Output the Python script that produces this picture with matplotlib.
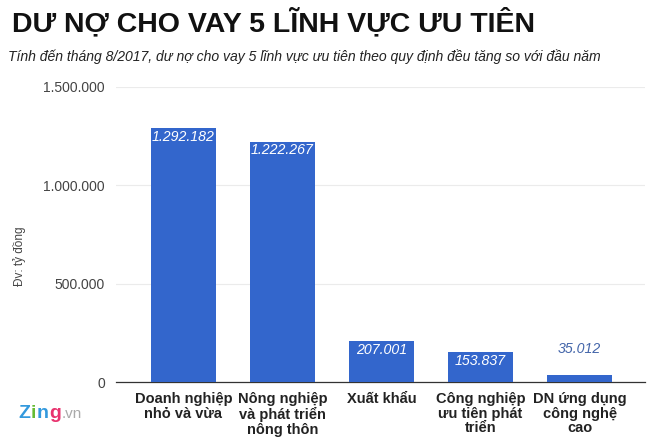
import matplotlib.pyplot as plt
from matplotlib.ticker import FuncFormatter

categories = ["Doanh nghiệp\nnhỏ và vừa", "Nông nghiệp\nvà phát triển\nnông thôn",
              "Xuất khẩu", "Công nghiệp\nưu tiên phát\ntriển", "DN ứng dụng\ncông nghệ\ncao"]
values = [1292182, 1222267, 207001, 153837, 35012]
value_labels = ["1.292.182", "1.222.267", "207.001", "153.837", "35.012"]
yticks = [0, 500000, 1000000, 1500000]

plt.rcParams['font.family'] = ['Liberation Sans', 'DejaVu Sans']

fig = plt.figure(figsize=(6.6, 4.38), dpi=100)
W, H = 660, 438
ax = fig.add_axes([116 / W, 1 - 382 / H, (645 - 116) / W, (382 - 87) / H])

blue = "#3366cc"
x = range(len(values))
ax.bar(x, values, width=0.65, color=blue, zorder=3)
ax.set_xlim(-0.68, 4.66)
ax.set_ylim(0, 1500000)
ax.set_yticks(yticks)
ax.yaxis.set_major_formatter(FuncFormatter(lambda v, p: f"{int(v):,}".replace(",", ".")))
ax.grid(axis="y", color="#ebebeb", linewidth=0.8, zorder=0)
for s in ["top", "right", "left"]:
    ax.spines[s].set_visible(False)
ax.spines["bottom"].set_color("#333333")
ax.spines["bottom"].set_linewidth(0.9)
ax.tick_params(axis="y", length=0, labelsize=10, labelcolor="#444444", pad=8)
ax.tick_params(axis="x", length=0, pad=7)
ax.set_xticks(list(x))
ax.set_xticklabels(categories, fontsize=10.5, fontweight="bold", color="#222222",
                   linespacing=1.08)

fig.text(20 / W, 1 - 256 / H, "Đv: tỷ đồng", fontsize=8.5, color="#444444",
         rotation=90, ha="center", va="center")

for i, (v, lab) in enumerate(zip(values, value_labels)):
    if v > 100000:
        ax.text(i, v - 9000, lab, ha="center", va="top", color="white",
                fontsize=10.2, style="italic", zorder=4)
    else:
        ax.text(i, v + 95000, lab, ha="center", va="bottom", color="#4466aa",
                fontsize=10.2, style="italic", zorder=4)

fig.text(12 / W, 1 - 23 / H, "DƯ NỢ CHO VAY 5 LĨNH VỰC ƯU TIÊN", fontsize=20.5,
         fontweight="bold", color="#111111", va="center", ha="left")
fig.text(8 / W, 1 - 57 / H,
         "Tính đến tháng 8/2017, dư nợ cho vay 5 lĩnh vực ưu tiên theo quy định đều tăng so với đầu năm",
         fontsize=10.1, style="italic", color="#222222", va="center", ha="left")

# Zing logo, letters placed one after another
renderer = fig.canvas.get_renderer()
px = 18
logo_y = 1 - 418 / H
for ch, col, sz, wt in [("Z", "#3399dd", 14, "bold"), ("i", "#66bb33", 14, "bold"),
                        ("n", "#3399dd", 14, "bold"), ("g", "#e8336e", 14, "bold"),
                        (".vn", "#aaaaaa", 11, "normal")]:
    t = fig.text(px / W, logo_y, ch, fontsize=sz, fontweight=wt, color=col,
                 va="baseline", ha="left")
    px = t.get_window_extent(renderer).x1 + 0.5

fig.savefig("out.png", dpi=100)
